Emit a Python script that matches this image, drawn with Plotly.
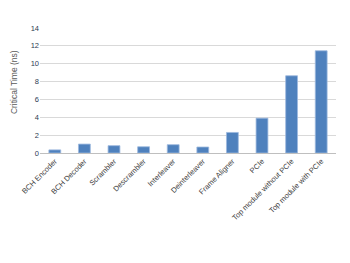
import plotly.graph_objects as go

categories = ["BCH Encoder", "BCH Decoder", "Scrambler", "Descrambler", "Interleaver",
              "Deinterleaver", "Frame Aligner", "PCIe", "Top module without PCIe",
              "Top module with PCIe"]
critical_time = [0.35, 1.0, 0.82, 0.7, 0.93, 0.67, 2.3, 3.9, 8.65, 11.45]
y_ticks = [0, 2, 4, 6, 8, 10, 12, 14]

fig = go.Figure(go.Bar(
    x=categories, y=critical_time,
    marker=dict(color="#4F81BD", line=dict(color="#9DB9DE", width=0.8)),
))
# page body has an 8px default margin, so the figure is sized to fit the 350x263 window
fig.update_layout(
    width=342, height=255,
    margin=dict(l=32, r=14, t=20, b=110),
    paper_bgcolor="white", plot_bgcolor="white",
    bargap=0.6, showlegend=False,
    font=dict(family="Liberation Sans", size=8, color="#404040"),
)
fig.update_xaxes(
    tickangle=-45, automargin=False, showline=True, linecolor="#BFBFBF", linewidth=1,
    ticks="", tickfont=dict(size=7.5, color="#404040"),
)
fig.update_yaxes(
    range=[0, 14], tickvals=y_ticks, showgrid=True, gridcolor="#D9D9D9", gridwidth=1,
    zeroline=False, automargin=False, ticks="", tickfont=dict(size=7.5, color="#2E3B52"),
)
fig.add_annotation(
    text="Critical Time (ns)", textangle=-90, showarrow=False,
    xref="paper", yref="paper", x=-0.09, y=0.57, xanchor="center", yanchor="middle",
    font=dict(size=8.5, color="#595959"),
)
fig.write_html("out.html")
